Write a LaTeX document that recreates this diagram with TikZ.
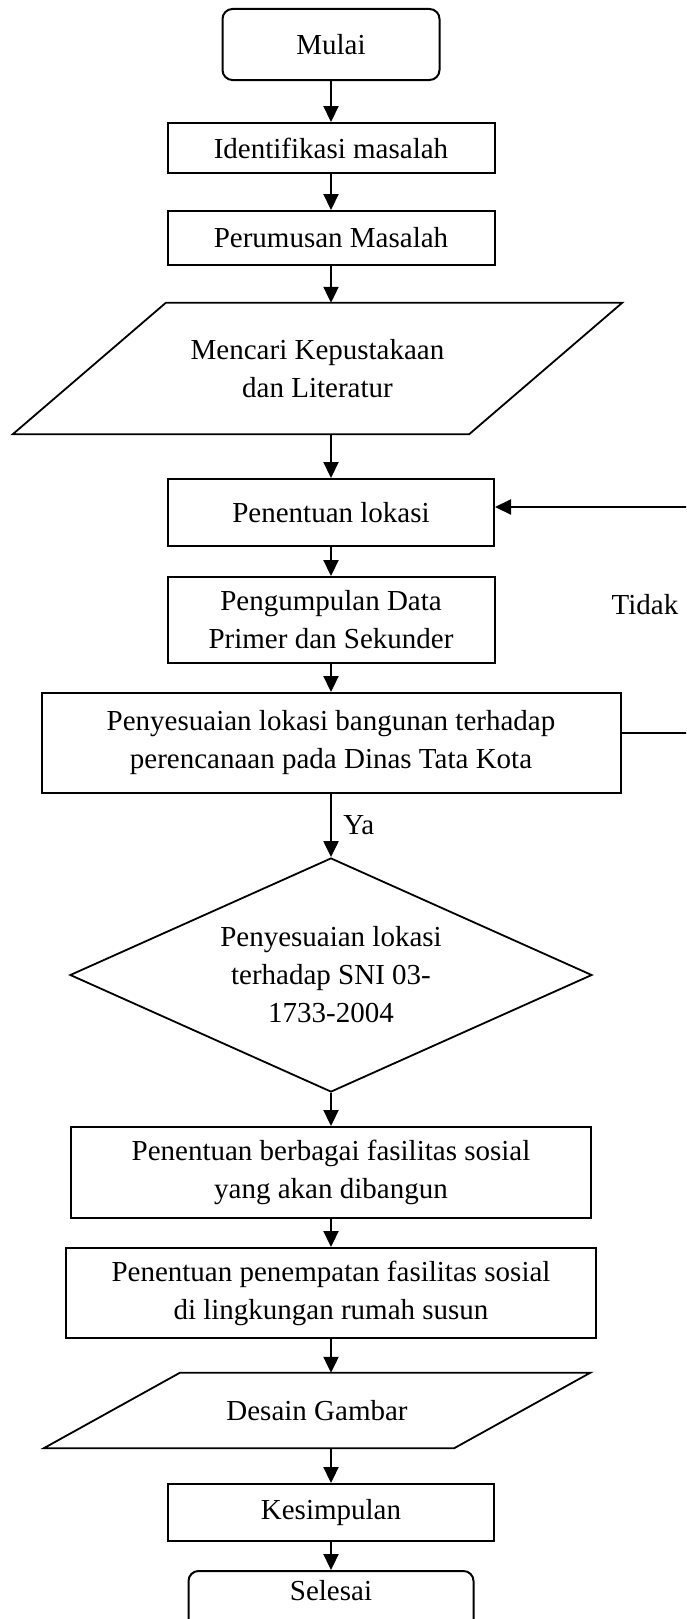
\documentclass[tikz,border=0pt]{standalone}
\usepackage{fontspec}
\setmainfont{Liberation Serif}
\usetikzlibrary{shapes.geometric,arrows.meta}

\tikzset{
  proses/.style={draw, rectangle, line width=2pt, align=center, inner sep=0pt},
  terminal/.style={proses, rounded corners=10pt},
  dataio/.style={rectangle, align=center, inner sep=0pt},
  garis/.style={line width=1.8pt, line join=miter},
  keputusan/.style={draw, diamond, aspect=2.23, line width=1.8pt, align=center, inner sep=0pt},
  panah/.style={->, >={Stealth[length=16pt,width=15pt,inset=0pt]}, line width=2.2pt},
}

\begin{document}
\begin{tikzpicture}[x=1pt, y=-1pt, font=\fontsize{29}{38}\selectfont]
  \useasboundingbox (0,0) rectangle (686,1619);
  \clip (0,0) rectangle (686,1619);
  % alur utama
  \node[terminal, minimum width=217pt, minimum height=71pt] (mulai)at(331, 44.5) {Mulai};
  \node[proses, minimum width=327pt, minimum height=50pt] (ident)at(331, 148) {Identifikasi masalah};
  \node[proses, minimum width=327pt, minimum height=54pt] (perum)at(331, 238) {Perumusan Masalah};
  \node[dataio, minimum width=609pt, minimum height=131pt] (mencari)at(317.5, 368.5) {Mencari Kepustakaan\\dan Literatur};
  \draw[garis] ([xshift=153pt]mencari.north west) -- (mencari.north east) -- ([xshift=-153pt]mencari.south east) -- (mencari.south west) -- cycle;
  \node[proses, minimum width=326pt, minimum height=67pt] (lokasi)at(331, 512.5) {Penentuan lokasi};
  \node[proses, minimum width=327pt, minimum height=86pt] (data)at(331, 620) {Pengumpulan Data\\Primer dan Sekunder};
  \node[proses, minimum width=579pt, minimum height=100pt] (sesuai)at(331, 743) {Penyesuaian lokasi bangunan terhadap\\perencanaan pada Dinas Tata Kota};
  \node[keputusan, minimum width=522pt, minimum height=234pt] (sni)at(331, 975) {Penyesuaian lokasi\\terhadap SNI 03-\\1733-2004};
  \node[proses, minimum width=520pt, minimum height=91pt] (fasos)at(331, 1172.5) {Penentuan berbagai fasilitas sosial\\yang akan dibangun};
  \node[proses, minimum width=530pt, minimum height=90pt] (tempat)at(331, 1293) {Penentuan penempatan fasilitas sosial\\di lingkungan rumah susun};
  \node[dataio, minimum width=546pt, minimum height=75pt] (desain)at(317, 1410.5) {Desain Gambar};
  \draw[garis] ([xshift=136pt]desain.north west) -- (desain.north east) -- ([xshift=-136pt]desain.south east) -- (desain.south west) -- cycle;
  \node[proses, minimum width=326pt, minimum height=57pt] (simpul)at(331, 1512.5) {Kesimpulan};
  \node[terminal, minimum width=285pt, minimum height=71pt, text height=20pt, text depth=33pt] (selesai)at(331, 1606.5) {Selesai};
  \node (tidak)at(645, 605) {Tidak};

  \draw[panah] (mulai) -- (ident);
  \draw[panah] (ident) -- (perum);
  \draw[panah] (perum) -- (perum |- mencari.north);
  \draw[panah] (lokasi |- mencari.south) -- (lokasi);
  \draw[panah] (lokasi) -- (data);
  \draw[panah] (data) -- (sesuai);
  \draw[panah] (sesuai) -- (sni) node[midway, right, xshift=8pt] (ya) {Ya};
  \draw[panah] (sni) -- (fasos);
  \draw[panah] (fasos) -- (tempat);
  \draw[panah] (tempat) -- (tempat |- desain.north);
  \draw[panah] (simpul |- desain.south) -- (simpul);
  \draw[panah] (simpul) -- (selesai);

  % umpan balik
  \coordinate (balik) at (700, 733);
  \coordinate (balikatas) at (700, 507);
  \draw[panah] (sesuai.east |- balik) -- (balik) -- (balikatas) -- (lokasi.east |- balikatas);
\end{tikzpicture}
\end{document}
